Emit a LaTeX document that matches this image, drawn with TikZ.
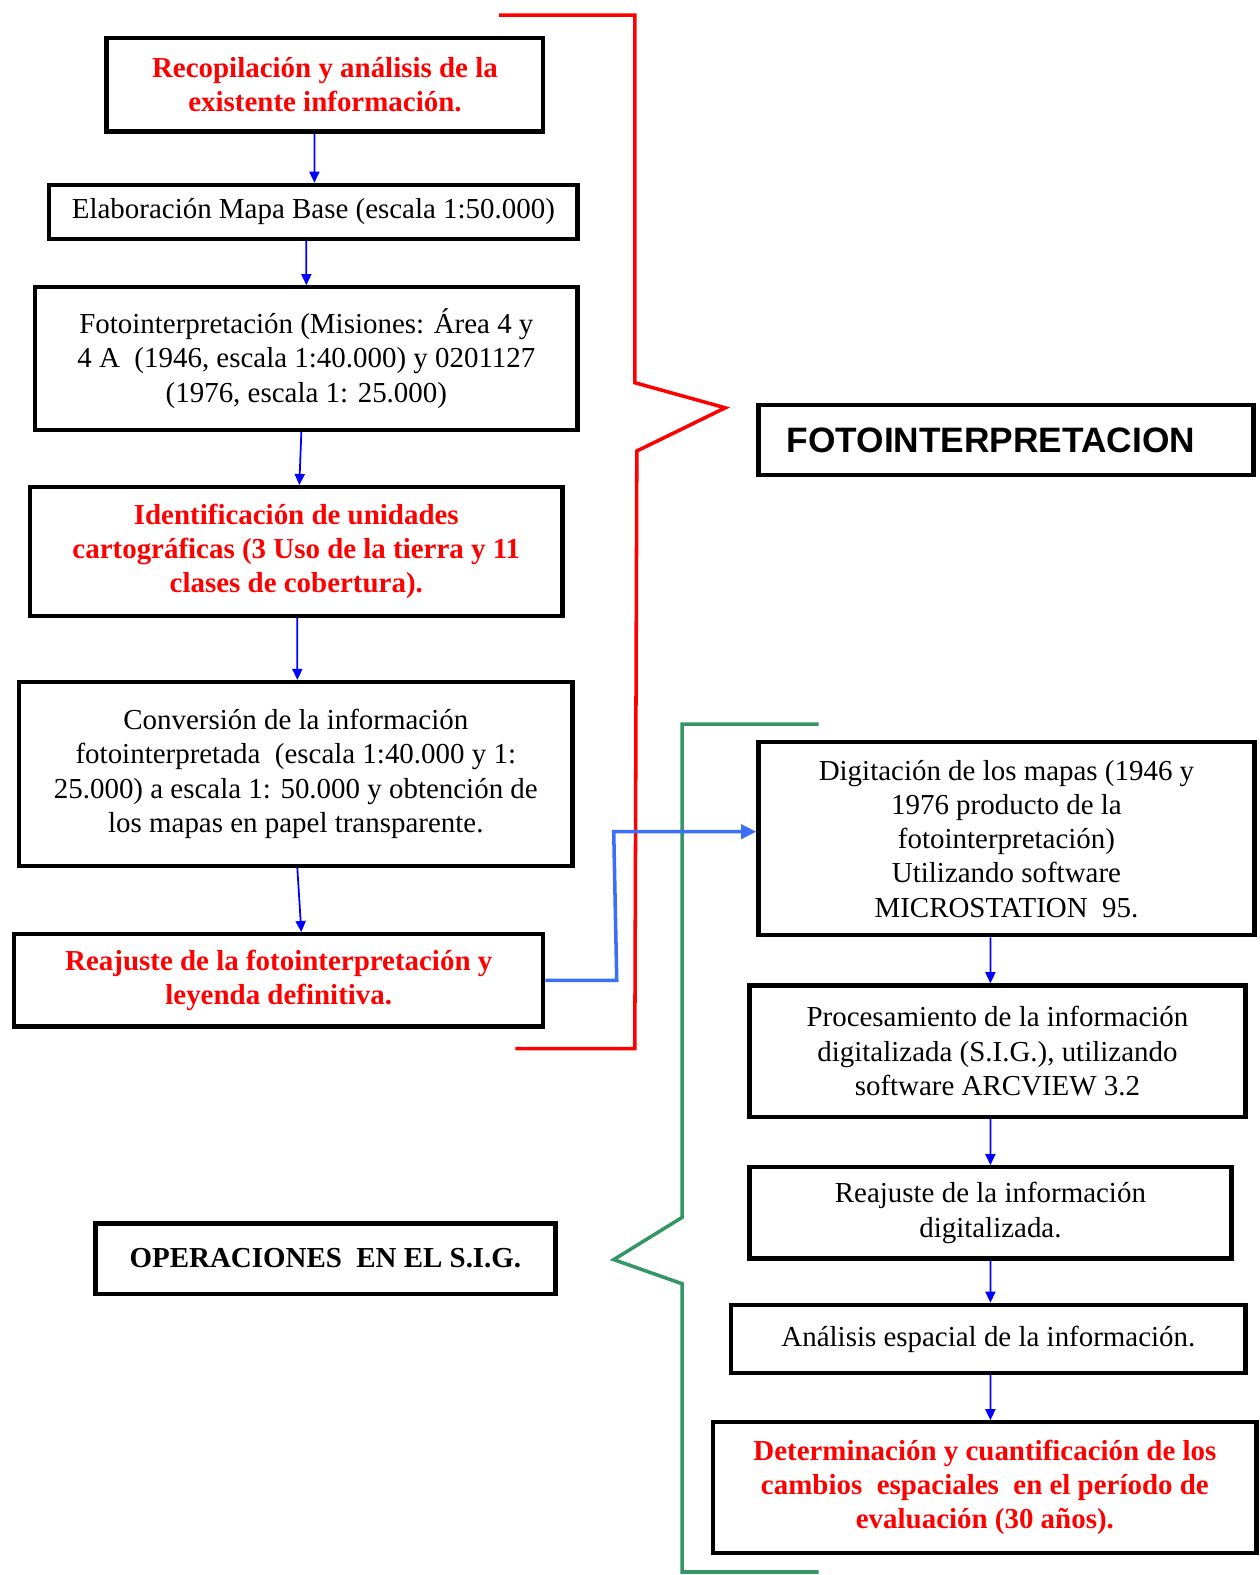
\documentclass[tikz,border=0pt]{standalone}
\usepackage{fontspec}
\setmainfont{Liberation Serif}
\newfontfamily\arialf{Liberation Sans}
\usetikzlibrary{arrows.meta}
\definecolor{redt}{RGB}{255,0,0}
\definecolor{grn}{RGB}{52,150,100}
\definecolor{lblue}{RGB}{60,110,250}
\definecolor{dblue}{RGB}{0,0,255}
\newcommand\boxfont{\fontsize{16.4}{19.4}\selectfont}
\begin{document}
\begin{tikzpicture}[x=0.02cm,y=-0.02cm,
  box/.style={draw=black,line width=2.4pt,inner sep=0pt,align=center,font=\boxfont},
  redbox/.style={box,text=redt,font=\boxfont\bfseries},
  arr/.style={draw=dblue,line width=1pt,-{Triangle[length=0.22cm,width=0.2cm]}},
  brk/.style={line width=2pt,line join=miter}]
\useasboundingbox (0,0) rectangle (1254,1568);

% left column
\node[redbox,minimum width=8.70cm,minimum height=1.86cm] (b1) at (323.5,84.5)
  {Recopilación y análisis de la\\existente información.};
\node[box,minimum width=10.52cm,minimum height=1.08cm] (b2) at (312,211)
  {Elaboración Mapa Base (escala 1:50.000)};
\node[box,minimum width=10.80cm,minimum height=2.84cm] (b3) at (305,357)
  {Fotointerpretación (Misiones: Área 4 y\\4 A \ (1946, escala 1:40.000) y 0201127\\(1976, escala 1: 25.000)};
\node[redbox,minimum width=10.60cm,minimum height=2.56cm] (b4) at (295,549)
  {Identificación de unidades\\cartográficas (3 Uso de la tierra y 11\\clases de cobertura).};
\node[box,minimum width=11.02cm,minimum height=3.66cm] (b5) at (294.5,770.5)
  {Conversión de la información\\fotointerpretada \ (escala 1:40.000 y 1:\\25.000) a escala 1: 50.000 y obtención de\\los mapas en papel transparente.};
\node[redbox,minimum width=10.54cm,minimum height=1.84cm] (b6) at (277.5,976)
  {Reajuste de la fotointerpretación y\\leyenda definitiva.};

% labels
\node[box,minimum width=9.86cm,minimum height=1.40cm,font=\arialf\bfseries\fontsize{20}{24}\selectfont] (foto) at (1001.5,438)
  {FOTOINTERPRETACION\hspace*{0.6cm}};
\node[box,minimum width=9.16cm,minimum height=1.40cm,font=\boxfont\bfseries] (oper) at (324,1253)
  {OPERACIONES \ EN EL S.I.G.};

% right column
\node[box,minimum width=9.88cm,minimum height=3.84cm] (r1) at (1002,835)
  {Digitación de los mapas (1946 y\\1976 producto de la\\fotointerpretación)\\Utilizando software\\MICROSTATION \ 95.};
\node[box,minimum width=9.88cm,minimum height=2.62cm] (r2) at (993,1046.5)
  {Procesamiento de la información\\digitalizada (S.I.G.), utilizando\\software ARCVIEW 3.2};
\node[box,minimum width=9.60cm,minimum height=1.82cm] (r3) at (986,1207.5)
  {Reajuste de la información\\digitalizada.};
\node[box,minimum width=10.24cm,minimum height=1.36cm] (r4) at (984,1333)
  {Análisis espacial de la información.};
\node[redbox,minimum width=10.82cm,minimum height=2.60cm] (r5) at (980.5,1481)
  {Determinación y cuantificación de los\\cambios \ espaciales \ en el período de\\evaluación (30 años).};

% arrows left
\draw[arr] ([xshift=-0.21cm]b1.south) -- ([xshift=0.02cm]b2.north);
\draw[arr] ([xshift=-0.14cm]b2.south) -- (b3.north);
\draw[arr] ([xshift=-0.10cm]b3.south) -- ([xshift=0.06cm]b4.north);
\draw[arr] ([xshift=0.02cm]b4.south) -- ([xshift=0.03cm]b5.north);
\draw[arr] ([xshift=0.03cm]b5.south) -- ([xshift=0.45cm]b6.north);

% arrows right
\draw[arr] ([xshift=-0.32cm]r1.south) -- ([xshift=-0.14cm]r2.north);
\draw[arr] ([xshift=-0.14cm]r2.south) -- (r3.north);
\draw[arr] (r3.south) -- ([xshift=0.04cm]r4.north);
\draw[arr] ([xshift=0.04cm]r4.south) -- ([xshift=0.11cm]r5.north);

% brackets
\draw[brk,draw=redt] (497,15) -- (632,15) -- (632,381) -- (722,406) -- (634,449) -- (632,1044) -- (513,1044);
\draw[brk,draw=grn] (815,721) -- (679,721) -- (679,1212) -- (611,1254) -- (679,1278) -- (679,1565) -- (815,1565);

% blue elbow connector
\coordinate (e1) at (614,976);
\coordinate (e2) at (611,828);
\draw[draw=lblue,line width=2pt,line join=miter,-{Triangle[length=0.3cm,width=0.28cm]}]
  (b6.east) -- (e1) -- (e2) -- ([yshift=0.14cm]r1.west);
\end{tikzpicture}
\end{document}
